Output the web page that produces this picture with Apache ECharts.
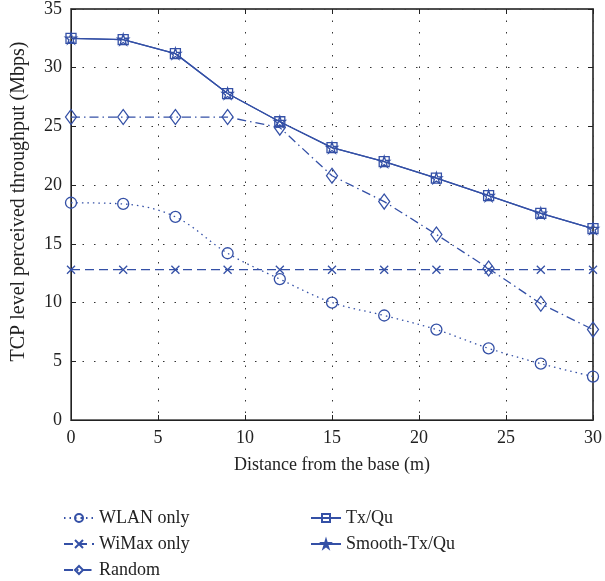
<!DOCTYPE html>
<html lang="en">
<head>
    <meta charset="UTF-8">
    <title>TCP throughput</title>
    <script src="https://cdn.jsdelivr.net/npm/echarts@6/dist/echarts.min.js"></script>
    <style>
        body { margin: 0; background: #fff; }
    </style>
</head>
<body>
    <div id="main" style="width: 605px;height: 581px;"></div>
<script type="text/javascript">
    // distance (m)
    var xdist = [0, 3, 6, 9, 12, 15, 18, 21, 24, 27, 30];
    var wlan = [18.5, 18.4, 17.3, 14.2, 12.0, 10.0, 8.9, 7.7, 6.1, 4.8, 3.7];
    var wimax = [12.8, 12.8, 12.8, 12.8, 12.8, 12.8, 12.8, 12.8, 12.8, 12.8, 12.8];
    var random = [25.8, 25.8, 25.8, 25.8, 24.9, 20.8, 18.6, 15.8, 12.9, 9.9, 7.7];
    var txqu = [32.5, 32.4, 31.2, 27.8, 25.4, 23.2, 22.0, 20.6, 19.1, 17.6, 16.3];
    var smooth = [32.5, 32.4, 31.2, 27.8, 25.4, 23.2, 22.0, 20.6, 19.1, 17.6, 16.3];

    var C = '#3450a6';
    var FONT = '"Liberation Serif", "DejaVu Serif", serif';
    var STAR = 'path://M50,0 L61,35 L98,35 L68,57 L79,91 L50,70 L21,91 L32,57 L2,35 L39,35 Z';
    var CROSS = 'path://M0,0L10,10M10,0L0,10';

    function pairs(arr) {
        var out = [];
        for (var i = 0; i < xdist.length; i++) {
            out.push([xdist[i], arr[i]]);
        }
        return out;
    }

    function mk(name, arr, symbol, size, dash, sm) {
        return {
            name: name,
            type: 'line',
            data: pairs(arr),
            symbol: symbol,
            symbolSize: size,
            smooth: sm || false,
            z: 3,
            lineStyle: { color: C, width: 1.3, type: dash },
            itemStyle: { color: 'none', borderColor: C, borderWidth: 1.3 }
        };
    }

    var chart = echarts.init(document.getElementById('main'));
    chart.setOption({
        animation: false,
        textStyle: { fontFamily: FONT },
        grid: { left: 71, right: 12, top: 9, bottom: 161, show: true, borderColor: '#444', borderWidth: 1.5 },
        legend: [{
            orient: 'vertical',
            left: 58, top: 503, height: 90,
            itemWidth: 30, itemHeight: 10, itemGap: 6,
            textStyle: { fontFamily: FONT, fontSize: 18, color: '#222', lineHeight: 20 },
            data: ['WLAN only', 'WiMax only', 'Random']
        }, {
            orient: 'vertical',
            left: 305, top: 503, height: 90,
            itemWidth: 30, itemHeight: 10, itemGap: 6,
            textStyle: { fontFamily: FONT, fontSize: 18, color: '#222', lineHeight: 20 },
            data: ['Tx/Qu', 'Smooth-Tx/Qu']
        }],
        xAxis: [{
            type: 'value', min: 0, max: 30, interval: 5,
            name: 'Distance from the base (m)',
            nameLocation: 'middle', nameGap: 36,
            nameTextStyle: { fontFamily: FONT, fontSize: 18, color: '#222' },
            axisLine: { show: true, onZero: false, lineStyle: { color: '#222', width: 1 } },
            axisTick: { inside: true, length: 5, lineStyle: { color: '#222' } },
            axisLabel: { fontFamily: FONT, fontSize: 18, color: '#222', margin: 9 },
            splitLine: { show: true, lineStyle: { color: '#333', type: [1.5, 10], width: 1 } }
        }, {
            type: 'value', min: 0, max: 30, interval: 5, position: 'top',
            axisLine: { show: true, onZero: false, lineStyle: { color: '#444', width: 1.5 } },
            axisTick: { inside: true, length: 5, lineStyle: { color: '#222' } },
            axisLabel: { show: false },
            splitLine: { show: false }
        }],
        yAxis: [{
            type: 'value', min: 0, max: 35, interval: 5,
            name: 'TCP level perceived throughput (Mbps)',
            nameLocation: 'middle', nameGap: 42,
            nameTextStyle: { fontFamily: FONT, fontSize: 20, color: '#222', padding: [0, 0, 0, 26] },
            axisLine: { show: true, onZero: false, lineStyle: { color: '#222', width: 1 } },
            axisTick: { inside: true, length: 5, lineStyle: { color: '#222' } },
            axisLabel: { fontFamily: FONT, fontSize: 18, color: '#222', margin: 9 },
            splitLine: { show: true, lineStyle: { color: '#333', type: [1.5, 10], width: 1 } }
        }, {
            type: 'value', min: 0, max: 35, interval: 5, position: 'right',
            axisLine: { show: true, onZero: false, lineStyle: { color: '#444', width: 1.5 } },
            axisTick: { inside: true, length: 5, lineStyle: { color: '#222' } },
            axisLabel: { show: false },
            splitLine: { show: false }
        }],
        series: [
            mk('WLAN only', wlan, 'circle', 11, [1.5, 4], 0.35),
            mk('WiMax only', wimax, CROSS, 8, [9, 5]),
            mk('Random', random, 'diamond', [11, 15], [9, 4, 1.5, 4]),
            mk('Tx/Qu', txqu, 'rect', 10, 'solid'),
            mk('Smooth-Tx/Qu', smooth, STAR, 11, 'solid')
        ]
    });
</script>
</body>
</html>
